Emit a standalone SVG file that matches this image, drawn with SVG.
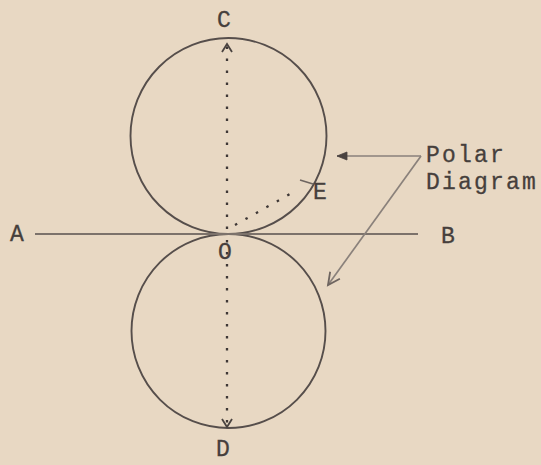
<svg xmlns="http://www.w3.org/2000/svg" width="541" height="465" viewBox="0 0 541 465">
  <style>
    .bg { fill: #e8d8c3; }
    .circ { fill: none; stroke: #564e4b; stroke-width: 1.9; }
    .axis { fill: none; stroke: #7c726b; stroke-width: 2; }
    .dots { fill: none; stroke: #3f3836; stroke-width: 2.3; stroke-dasharray: 2.5 9.5; }
    .lead { fill: none; stroke: #8a817b; stroke-width: 1.7; }
    .lbl { font-family: "Liberation Mono", "Courier New", monospace; font-size: 23px; fill: #463f3c; stroke: #463f3c; stroke-width: 0.3; }
    .side { letter-spacing: 2.2px; }
  </style>
  <defs>
    <marker id="chev" markerUnits="userSpaceOnUse" markerWidth="20" markerHeight="20" refX="0" refY="0" viewBox="-10 -10 20 20" orient="auto" overflow="visible">
      <path d="M -8 -5 L 0 0 L -8 5" fill="none" stroke="#4a4340" stroke-width="1.8"/>
    </marker>
    <marker id="solid" markerUnits="userSpaceOnUse" markerWidth="20" markerHeight="20" refX="0" refY="0" viewBox="-12 -10 20 20" orient="auto" overflow="visible">
      <path d="M -10 -4 L 0 0 L -10 4 Z" fill="#4a4340" stroke="#4a4340" stroke-width="0.8"/>
    </marker>
    <marker id="open" markerUnits="userSpaceOnUse" markerWidth="24" markerHeight="24" refX="0" refY="0" viewBox="-14 -10 24 20" orient="auto" overflow="visible">
      <path d="M -12 -6 L 0 0 L -12 6" fill="none" stroke="#6e6560" stroke-width="1.8"/>
    </marker>
  </defs>
  <rect class="bg" x="0" y="0" width="541" height="465"/>

  <g id="upper-circle">
    <circle class="circ" cx="228.5" cy="136" r="98"/>
  </g>
  <g id="lower-circle">
    <circle class="circ" cx="228.5" cy="331" r="97"/>
  </g>

  <g id="connectors">
    <line id="axis-AB" class="axis" x1="35" y1="234" x2="418" y2="234"/>
    <line id="O-C" class="dots" x1="227" y1="229" x2="227" y2="44" marker-end="url(#chev)"/>
    <line id="O-D" class="dots" x1="227" y1="240" x2="227" y2="427" marker-end="url(#chev)"/>
    <line id="O-E" class="dots" x1="235" y1="225" x2="290" y2="194"/>
    <line id="E-tick" x1="300" y1="180" x2="313" y2="184" stroke="#6e6560" stroke-width="1.6"/>
    <path id="lead-upper" class="lead" d="M 421 156 L 337 156" marker-end="url(#solid)"/>
    <path id="lead-lower" class="lead" d="M 421 156 L 328 285" marker-end="url(#open)"/>
  </g>

  <g id="label-C"><text class="lbl" x="224" y="27" text-anchor="middle">C</text></g>
  <g id="label-A"><text class="lbl" x="17" y="241" text-anchor="middle">A</text></g>
  <g id="label-B"><text class="lbl" x="448" y="243" text-anchor="middle">B</text></g>
  <g id="label-O"><text class="lbl" x="225" y="259" text-anchor="middle">O</text></g>
  <g id="label-D"><text class="lbl" x="223" y="456" text-anchor="middle">D</text></g>
  <g id="label-E"><text class="lbl" x="320" y="199" text-anchor="middle">E</text></g>
  <g id="label-polar">
    <text class="lbl side" x="426" y="162">Polar</text>
    <text class="lbl side" x="426" y="189">Diagram</text>
  </g>
</svg>
